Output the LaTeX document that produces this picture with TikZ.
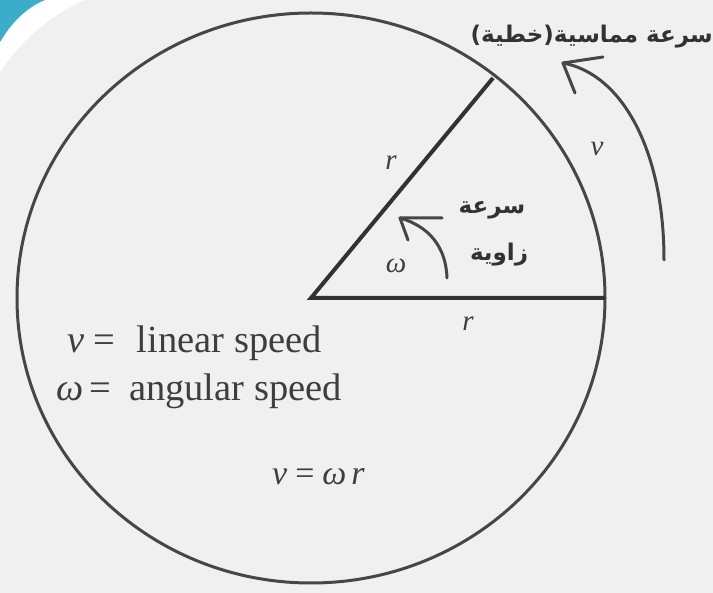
\documentclass[tikz,border=0pt]{standalone}
\usepackage{fontspec}
\setmainfont{Liberation Serif}
\newfontfamily\arabicfont[Script=Arabic]{DejaVu Sans}
\TeXXeTstate=1
\definecolor{bg}{RGB}{240,240,240}
\definecolor{tealc}{RGB}{58,174,200}
\definecolor{ink}{RGB}{62,62,62}
\definecolor{linec}{RGB}{70,70,70}
\begin{document}
\begin{tikzpicture}[x=1pt,y=-1pt,
  circ/.style={draw=linec, line width=3pt},
  rad/.style={draw=ink!80!black, line width=4pt, line join=miter},
  arr/.style={draw=linec, line width=3pt, line cap=round, line join=round},
  lbl/.style={font=\fontsize{38.5}{42}\selectfont, text=ink, inner sep=0pt},
  sym/.style={font=\fontsize{29}{32}\selectfont\itshape, text=ink, inner sep=0pt},
  ar/.style={font=\arabicfont\bfseries\fontsize{23}{27}\selectfont, text=ink!80!black, inner sep=0pt}]
\fill[bg] (0,0) rectangle (713,593);
\useasboundingbox (0,0) rectangle (713,593);
% corner decoration
\fill[white] (0,0) -- (0,72) .. controls (20,42) and (50,15) .. (85,0) -- cycle;
\fill[tealc] (0,0) -- (0,42) .. controls (10,25) and (25,8) .. (45,0) -- cycle;
% circle and radii
\coordinate (O) at (311,298);
\coordinate (A) at (605,298);
\coordinate (B) at (493,78);
\draw[circ] (O) ellipse [x radius=294, y radius=285];
\draw[rad] (B) -- (O) -- (A);
% small angular arrow
\coordinate (s0) at (447,278);
\coordinate (s1) at (400,218);
\coordinate (s2) at (442,218);
\coordinate (s3) at (408,240);
\draw[arr] (s0) .. controls (446,246) and (428,226) .. (s1);
\draw[arr] (s2) -- (s1) -- (s3);
% big tangential arrow
\coordinate (b0) at (664,260);
\coordinate (b1) at (563,63);
\coordinate (b2) at (603,57);
\coordinate (b3) at (575,93);
\draw[arr] (b0) .. controls (664,150) and (622,74) .. (b1);
\draw[arr] (b2) -- (b1) -- (b3);
% labels
\node[sym] (r1) at (391,163) {r};
\node[sym] (r2) at (468,324) {r};
\node[sym] (v1) at (597,149) {v};
\node[sym] (w1) at (396,266) {ω};
\node[ar] (ar1) at (492,210) {\beginR سرعة\endR};
\node[ar] (ar2) at (499,255) {\beginR زاوية\endR};
\node[ar, anchor=east] (ar3) at (713,37) {\beginR سرعة مماسية(خطية)\endR};
\node[lbl, anchor=base west] (l1) at (67,353) {\textit{v}\hspace{9pt}=\hspace{22pt}linear speed};
\node[lbl, anchor=base west] (l2) at (56,401) {\textit{ω}\hspace{6pt}=\hspace{18pt}angular speed};
\node[lbl, anchor=base west, font=\fontsize{34}{38}\selectfont] (l3) at (272,485) {\textit{v}\hspace{8pt}=\hspace{8pt}\textit{ω}\hspace{5pt}\textit{r}};
\end{tikzpicture}
\end{document}
